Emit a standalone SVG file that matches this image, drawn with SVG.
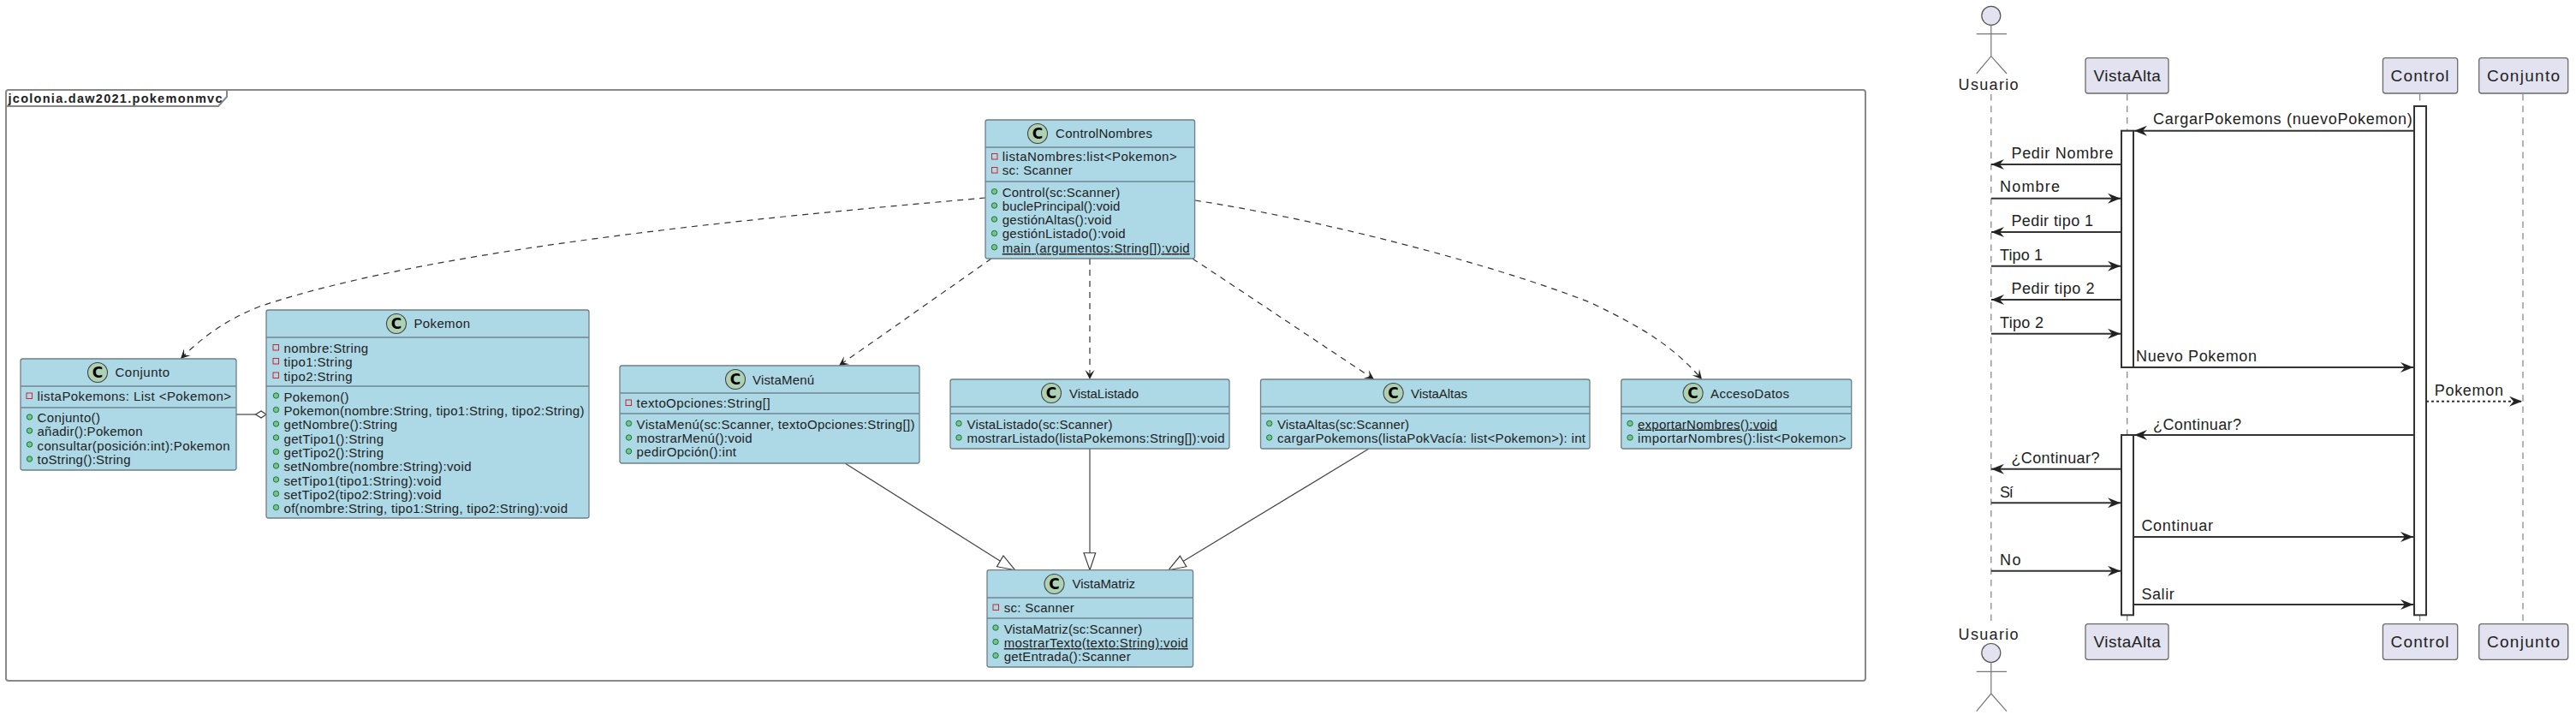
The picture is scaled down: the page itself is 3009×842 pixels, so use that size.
<svg xmlns="http://www.w3.org/2000/svg" width="3009" height="842" viewBox="0 0 3009 842">
<style>
text{font-family:"Liberation Sans",Arial,sans-serif;fill:#222}
.box{fill:#ADD8E6;stroke:#6f7f87;stroke-width:1.3}
.div{stroke:#6f8793;stroke-width:1.4;fill:none}
.circ{fill:#ADD1B2;stroke:#444;stroke-width:1.1}
.c{font-family:"DejaVu Sans",sans-serif;font-weight:700;font-size:17px;text-anchor:middle;fill:#000}
.ttl{font-size:15px}
.m{font-size:15px}
.u{text-decoration:underline}
.pub{fill:#84BE84;stroke:#038048;stroke-width:1}
.pri{fill:none;stroke:#C82930;stroke-width:1}
.frame{fill:none;stroke:#888;stroke-width:2}
.dep{fill:none;stroke:#333;stroke-width:1.2;stroke-dasharray:7 6;marker-end:url(#open)}
.gen{fill:none;stroke:#444;stroke-width:1.2}
.tri{fill:#fff;stroke:#333;stroke-width:1.1}
.part{fill:#E2E2F0;stroke:#6a6a6a;stroke-width:1.3}
.pn{font-size:19px;text-anchor:middle}
.life{stroke:#8a8a8a;stroke-width:1.3;stroke-dasharray:7.5 6;fill:none}
.act{fill:#fff;stroke:#333;stroke-width:2}
.msg{stroke:#333;stroke-width:2;fill:none;marker-end:url(#seq)}
.lbl{font-size:18px}
.stick{fill:none;stroke:#777;stroke-width:1.2}
.head{fill:#E2E2F0;stroke:#555;stroke-width:1.2}
</style>
<defs>
<marker id="open" markerUnits="userSpaceOnUse" markerWidth="14" markerHeight="12" refX="12" refY="6" orient="auto" overflow="visible"><path d="M1,0.5 L12,6 L1,11.5 L6,6Z" fill="#222"/></marker>
<marker id="seq" markerUnits="userSpaceOnUse" markerWidth="18" markerHeight="14" refX="16" refY="7" orient="auto" overflow="visible"><path d="M1,1 L16,7 L1,13 L6,7Z" fill="#222"/></marker>
</defs>

<g id="package">
<path class="frame" d="M7,108 Q7,105 10,105 L2176,105 Q2179,105 2179,108 L2179,792 Q2179,795 2176,795 L10,795 Q7,795 7,792 Z"/>
<path class="frame" d="M7,124 L255,124 L265,113 L265,105"/>
<text x="9.5" y="120" textLength="250" style="font-size:14.5px;font-weight:700">jcolonia.daw2021.pokemonmvc</text>
</g>

<g id="connectors">
<path class="dep" d="M1151,231 C940,250 520,285 303,358 C268,372 240,390 211,419"/>
<path class="dep" d="M1158,302 L980,427"/>
<path class="dep" d="M1273,302 L1273,443"/>
<path class="dep" d="M1393,302 L1605,443"/>
<path class="dep" d="M1396,234 C1520,253 1720,300 1857,353 C1920,383 1955,405 1988,443"/>
<path class="gen" d="M987,541 L1168,655"/>
<polygon class="tri" points="1185.6,665.7 1172,649 1164.5,661.7"/>
<path class="gen" d="M1273,524 L1273,646"/>
<polygon class="tri" points="1273,665.7 1266,645.7 1279.7,645.7"/>
<path class="gen" d="M1599,524 L1382,655.5"/>
<polygon class="tri" points="1365,665.7 1378.4,649.3 1385.8,661.7"/>
<path class="gen" d="M276,484 L298.5,484"/>
<polygon class="tri" points="311,484 305,480 298.5,484 305,488"/>
<g id="lifelines">
<path class="life" d="M2325.8,110 V728"/>
<path class="life" d="M2484.7,110 V728"/>
<path class="life" d="M2826.6,110 V728"/>
<path class="life" d="M2947,110 V728"/>
</g>
<rect class="act" x="2820" y="124" width="14" height="594.3"/>
<rect class="act" x="2478" y="152.7" width="14" height="276.3"/>
<rect class="act" x="2478" y="508" width="14" height="210.3"/>
<path class="msg" d="M2820,152.7 H2493"/>
<path class="msg" d="M2478,192 H2326"/>
<path class="msg" d="M2326,231.7 H2477"/>
<path class="msg" d="M2478,271 H2326"/>
<path class="msg" d="M2326,310.7 H2477"/>
<path class="msg" d="M2478,350 H2326"/>
<path class="msg" d="M2326,389.7 H2477"/>
<path class="msg" d="M2492,429 H2819"/>
<path class="msg" d="M2834,468.7 H2946" stroke-dasharray="3 3"/>
<path class="msg" d="M2820,508 H2493"/>
<path class="msg" d="M2478,547.7 H2326"/>
<path class="msg" d="M2326,587.3 H2477"/>
<path class="msg" d="M2492,627 H2819"/>
<path class="msg" d="M2326,666.7 H2477"/>
<path class="msg" d="M2492,706 H2819"/>
</g>

<g id="Conjunto">
<rect class="box" x="24" y="419" width="252" height="130" rx="2.5"/>
<path class="div" d="M24,451 H276 M24,476 H276"/>
<circle class="circ" cx="114" cy="435" r="11.5"/><text class="c" x="114" y="441">C</text>
<text class="ttl" x="134.5" y="440" textLength="63.5">Conjunto</text>
<rect class="pri" x="31" y="459" width="6.5" height="6.5"/>
<text class="m" x="43.5" y="468" textLength="226.6">listaPokemons: List &lt;Pokemon&gt;</text>
<circle class="pub" cx="34.5" cy="487" r="3.2"/><text class="m" x="43.5" y="493" textLength="73.5">Conjunto()</text>
<circle class="pub" cx="34.5" cy="503" r="3.2"/><text class="m" x="43.5" y="509" textLength="123">añadir():Pokemon</text>
<circle class="pub" cx="34.5" cy="519" r="3.2"/><text class="m" x="43.5" y="525.5" textLength="225">consultar(posición:int):Pokemon</text>
<circle class="pub" cx="34.5" cy="536" r="3.2"/><text class="m" x="43.5" y="542" textLength="109">toString():String</text>
</g>

<g id="Pokemon">
<rect class="box" x="311" y="362" width="377" height="243" rx="2.5"/>
<path class="div" d="M311,394 H688 M311,451 H688"/>
<circle class="circ" cx="463" cy="378" r="11.5"/><text class="c" x="463" y="384">C</text>
<text class="ttl" x="483.5" y="383" textLength="65.5">Pokemon</text>
<rect class="pri" x="319" y="402.5" width="6.5" height="6.5"/><text class="m" x="331.5" y="411.5" textLength="98.7">nombre:String</text>
<rect class="pri" x="319" y="418.5" width="6.5" height="6.5"/><text class="m" x="331.5" y="428" textLength="80">tipo1:String</text>
<rect class="pri" x="319" y="435" width="6.5" height="6.5"/><text class="m" x="331.5" y="444.5" textLength="80">tipo2:String</text>
<circle class="pub" cx="322.5" cy="462" r="3.2"/><text class="m" x="331.5" y="468.5" textLength="76">Pokemon()</text>
<circle class="pub" cx="322.5" cy="478.5" r="3.2"/><text class="m" x="331.5" y="484.5" textLength="351">Pokemon(nombre:String, tipo1:String, tipo2:String)</text>
<circle class="pub" cx="322.5" cy="495" r="3.2"/><text class="m" x="331.5" y="501" textLength="132.7">getNombre():String</text>
<circle class="pub" cx="322.5" cy="511" r="3.2"/><text class="m" x="331.5" y="517.5" textLength="116.6">getTipo1():String</text>
<circle class="pub" cx="322.5" cy="527.5" r="3.2"/><text class="m" x="331.5" y="533.5" textLength="116.6">getTipo2():String</text>
<circle class="pub" cx="322.5" cy="544" r="3.2"/><text class="m" x="331.5" y="550" textLength="219">setNombre(nombre:String):void</text>
<circle class="pub" cx="322.5" cy="560" r="3.2"/><text class="m" x="331.5" y="566.5" textLength="184">setTipo1(tipo1:String):void</text>
<circle class="pub" cx="322.5" cy="576.5" r="3.2"/><text class="m" x="331.5" y="582.5" textLength="184">setTipo2(tipo2:String):void</text>
<circle class="pub" cx="322.5" cy="592.5" r="3.2"/><text class="m" x="331.5" y="599" textLength="331.5">of(nombre:String, tipo1:String, tipo2:String):void</text>
</g>

<g id="ControlNombres">
<rect class="box" x="1151" y="140" width="244.6" height="162" rx="2.5"/>
<path class="div" d="M1151,172 H1395.6 M1151,212 H1395.6"/>
<circle class="circ" cx="1212" cy="156" r="11.5"/><text class="c" x="1212" y="162">C</text>
<text class="ttl" x="1233" y="161" textLength="113">ControlNombres</text>
<rect class="pri" x="1158.5" y="179.5" width="6.5" height="6.5"/><text class="m" x="1170.7" y="188" textLength="204">listaNombres:list&lt;Pokemon&gt;</text>
<rect class="pri" x="1158.5" y="195.5" width="6.5" height="6.5"/><text class="m" x="1170.7" y="204" textLength="82">sc: Scanner</text>
<circle class="pub" cx="1161.5" cy="223.7" r="3.2"/><text class="m" x="1170.7" y="230" textLength="137.6">Control(sc:Scanner)</text>
<circle class="pub" cx="1161.5" cy="240" r="3.2"/><text class="m" x="1170.7" y="246" textLength="137.6">buclePrincipal():void</text>
<circle class="pub" cx="1161.5" cy="256" r="3.2"/><text class="m" x="1170.7" y="262" textLength="128">gestiónAltas():void</text>
<circle class="pub" cx="1161.5" cy="272.5" r="3.2"/><text class="m" x="1170.7" y="278" textLength="144">gestiónListado():void</text>
<circle class="pub" cx="1161.5" cy="288.7" r="3.2"/><text class="m u" x="1170.7" y="295" textLength="219">main (argumentos:String[]):void</text>
</g>

<g id="VistaMenu">
<rect class="box" x="724" y="427" width="350" height="114" rx="2.5"/>
<path class="div" d="M724,459 H1074 M724,483 H1074"/>
<circle class="circ" cx="859" cy="443" r="11.5"/><text class="c" x="859" y="449">C</text>
<text class="ttl" x="879" y="448.5" textLength="72">VistaMenú</text>
<rect class="pri" x="731" y="467" width="6.5" height="6.5"/><text class="m" x="743.6" y="476" textLength="156">textoOpciones:String[]</text>
<circle class="pub" cx="734.5" cy="494.5" r="3.2"/><text class="m" x="743.6" y="501" textLength="324.8">VistaMenú(sc:Scanner, textoOpciones:String[])</text>
<circle class="pub" cx="734.5" cy="511" r="3.2"/><text class="m" x="743.6" y="517" textLength="135">mostrarMenú():void</text>
<circle class="pub" cx="734.5" cy="527" r="3.2"/><text class="m" x="743.6" y="533" textLength="116.4">pedirOpción():int</text>
</g>

<g id="VistaListado">
<rect class="box" x="1110" y="443" width="326" height="81" rx="2.5"/>
<path class="div" d="M1110,475 H1436 M1110,483 H1436"/>
<circle class="circ" cx="1228" cy="459" r="11.5"/><text class="c" x="1228" y="465">C</text>
<text class="ttl" x="1249" y="464.5" textLength="81">VistaListado</text>
<circle class="pub" cx="1120" cy="494.5" r="3.2"/><text class="m" x="1129.5" y="500.5" textLength="170">VistaListado(sc:Scanner)</text>
<circle class="pub" cx="1120" cy="511" r="3.2"/><text class="m" x="1129.5" y="517" textLength="301">mostrarListado(listaPokemons:String[]):void</text>
</g>

<g id="VistaAltas">
<rect class="box" x="1472.5" y="443" width="384.5" height="81" rx="2.5"/>
<path class="div" d="M1472.5,475 H1857 M1472.5,483 H1857"/>
<circle class="circ" cx="1627.6" cy="459" r="11.5"/><text class="c" x="1627.6" y="465">C</text>
<text class="ttl" x="1648" y="464.5" textLength="66">VistaAltas</text>
<circle class="pub" cx="1482.7" cy="494.5" r="3.2"/><text class="m" x="1492" y="500.5" textLength="154">VistaAltas(sc:Scanner)</text>
<circle class="pub" cx="1482.7" cy="511" r="3.2"/><text class="m" x="1492" y="517" textLength="360">cargarPokemons(listaPokVacía: list&lt;Pokemon&gt;): int</text>
</g>

<g id="AccesoDatos">
<rect class="box" x="1893.7" y="443" width="269" height="81" rx="2.5"/>
<path class="div" d="M1893.7,475 H2162.7 M1893.7,483 H2162.7"/>
<circle class="circ" cx="1977.6" cy="459" r="11.5"/><text class="c" x="1977.6" y="465">C</text>
<text class="ttl" x="1998" y="464.5" textLength="92">AccesoDatos</text>
<circle class="pub" cx="1904" cy="494.5" r="3.2"/><text class="m u" x="1913" y="500.5" textLength="163">exportarNombres():void</text>
<circle class="pub" cx="1904" cy="511" r="3.2"/><text class="m" x="1913" y="517" textLength="243.4">importarNombres():list&lt;Pokemon&gt;</text>
</g>

<g id="VistaMatriz">
<rect class="box" x="1153" y="665.7" width="240.6" height="113.3" rx="2.5"/>
<path class="div" d="M1153,698 H1393.6 M1153,722 H1393.6"/>
<circle class="circ" cx="1231.5" cy="682" r="11.5"/><text class="c" x="1231.5" y="688">C</text>
<text class="ttl" x="1252.6" y="687" textLength="73.4">VistaMatriz</text>
<rect class="pri" x="1160" y="706" width="6.5" height="6.5"/><text class="m" x="1172.7" y="715" textLength="82">sc: Scanner</text>
<circle class="pub" cx="1163" cy="733" r="3.2"/><text class="m" x="1172.7" y="739.5" textLength="161.6">VistaMatriz(sc:Scanner)</text>
<circle class="pub" cx="1163" cy="749.5" r="3.2"/><text class="m u" x="1172.7" y="756" textLength="215">mostrarTexto(texto:String):void</text>
<circle class="pub" cx="1163" cy="765.5" r="3.2"/><text class="m" x="1172.7" y="772" textLength="148">getEntrada():Scanner</text>
</g>

<g id="UsuarioTop">
<ellipse class="head" cx="2325.8" cy="18.3" rx="11" ry="11"/>
<path class="stick" d="M2325.8,29.3 V65.7 M2308.7,39.7 H2344 M2308.7,86 L2325.8,65.7 L2344,86"/>
<text class="lbl" x="2287.6" y="105.3" textLength="70">Usuario</text>
</g>
<g id="VistaAltaTop"><rect class="part" x="2436" y="67.7" width="97" height="41.3" rx="3"/><text class="pn" x="2484.7" y="95" textLength="78.5">VistaAlta</text></g>
<g id="ControlTop"><rect class="part" x="2783.4" y="67.7" width="87.3" height="41.3" rx="3"/><text class="pn" x="2826.6" y="95" textLength="68">Control</text></g>
<g id="ConjuntoTop"><rect class="part" x="2895.7" y="67.7" width="104" height="41.3" rx="3"/><text class="pn" x="2947.5" y="95" textLength="85">Conjunto</text></g>

<g id="UsuarioBottom">
<text class="lbl" x="2287.6" y="746.7" textLength="70">Usuario</text>
<ellipse class="head" cx="2325.8" cy="762.5" rx="11" ry="11"/>
<path class="stick" d="M2325.8,773.5 V810 M2308.7,784.3 H2344 M2308.7,830.7 L2325.8,810 L2344,830.7"/>
</g>
<g id="VistaAltaBottom"><rect class="part" x="2436" y="728.7" width="97" height="41.6" rx="3"/><text class="pn" x="2484.7" y="756" textLength="78.5">VistaAlta</text></g>
<g id="ControlBottom"><rect class="part" x="2783.4" y="728.7" width="87.3" height="41.6" rx="3"/><text class="pn" x="2826.6" y="756" textLength="68">Control</text></g>
<g id="ConjuntoBottom"><rect class="part" x="2895.7" y="728.7" width="104" height="41.6" rx="3"/><text class="pn" x="2947.5" y="756" textLength="85">Conjunto</text></g>

<g id="labels">
<text class="lbl" x="2515" y="145.3" textLength="302.7">CargarPokemons (nuevoPokemon)</text>
<text class="lbl" x="2349.4" y="185" textLength="119">Pedir Nombre</text>
<text class="lbl" x="2336" y="224" textLength="70">Nombre</text>
<text class="lbl" x="2349.4" y="264" textLength="95.6">Pedir tipo 1</text>
<text class="lbl" x="2336" y="303.5" textLength="50">Tipo 1</text>
<text class="lbl" x="2349.4" y="343" textLength="97">Pedir tipo 2</text>
<text class="lbl" x="2336" y="382.5" textLength="51">Tipo 2</text>
<text class="lbl" x="2495" y="421.7" textLength="141">Nuevo Pokemon</text>
<text class="lbl" x="2843.7" y="461.7" textLength="80.3">Pokemon</text>
<text class="lbl" x="2515" y="501.7" textLength="103">¿Continuar?</text>
<text class="lbl" x="2349.4" y="541" textLength="103">¿Continuar?</text>
<text class="lbl" x="2336" y="580.7" textLength="15.8">Sí</text>
<text class="lbl" x="2501.4" y="620" textLength="83.6">Continuar</text>
<text class="lbl" x="2336" y="660" textLength="24.6">No</text>
<text class="lbl" x="2501.4" y="699.5" textLength="38.3">Salir</text>
</g>
</svg>
